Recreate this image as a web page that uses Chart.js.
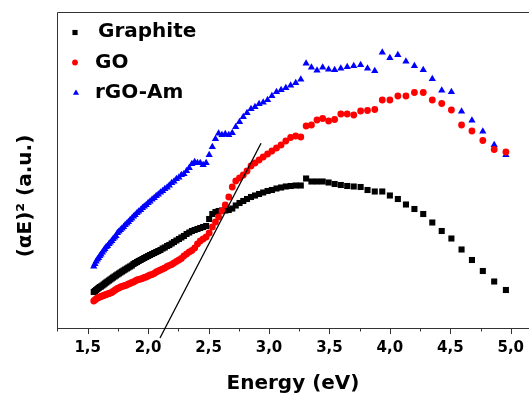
<!DOCTYPE html>
<html>
<head>
<meta charset="utf-8">
<script src="https://cdn.jsdelivr.net/npm/chart.js@4.4.1/dist/chart.umd.min.js"></script>
<style>
  body { margin: 0; background: #fff; }
  #chart { display: block; }
</style>
</head>
<body>
<canvas id="chart" width="529" height="394"></canvas>
<script>
// Photon energy (eV) of every measured point, shared by all three samples
const energy = [
    1.550, 1.560, 1.570, 1.580, 1.590, 1.600, 1.610, 1.621, 1.632, 1.642,
    1.653, 1.664, 1.676, 1.687, 1.699, 1.710, 1.722, 1.734, 1.746, 1.759,
    1.771, 1.784, 1.797, 1.810, 1.824, 1.837, 1.851, 1.865, 1.879, 1.893,
    1.908, 1.922, 1.938, 1.953, 1.968, 1.984, 2.000, 2.016, 2.033, 2.050,
    2.067, 2.084, 2.102, 2.120, 2.138, 2.157, 2.175, 2.195, 2.214, 2.234,
    2.255, 2.275, 2.296, 2.318, 2.340, 2.362, 2.385, 2.408, 2.431, 2.455,
    2.480, 2.505, 2.531, 2.557, 2.583, 2.611, 2.638, 2.667, 2.696, 2.725,
    2.756, 2.787, 2.818, 2.851, 2.884, 2.918, 2.952, 2.988, 3.024, 3.062,
    3.100, 3.139, 3.179, 3.221, 3.263, 3.307, 3.351, 3.397, 3.444, 3.493,
    3.543, 3.594, 3.647, 3.701, 3.758, 3.815, 3.875, 3.937, 4.000, 4.066,
    4.133, 4.203, 4.276, 4.351, 4.429, 4.509, 4.593, 4.679, 4.769, 4.863,
    4.960
];

// (alpha E)^2 in arbitrary units
const graphite = [
    36, 37, 38, 39, 40, 41, 41.5, 42.5, 43.5, 44.5,
    45.5, 46.5, 47.5, 48.5, 49.5, 50.5, 51.5, 52.5, 53.5, 54.5,
    55.5, 56.5, 57.5, 58.5, 59.5, 60.5, 61.5, 62.5, 64, 65,
    66, 67, 68, 69, 70, 71, 72, 73, 74, 75,
    76, 77, 78, 79.5, 80.5, 82, 83, 84.5, 86, 87.5,
    89, 90.5, 92, 94, 95.5, 97, 98, 99, 100, 101,
    102, 109, 114, 116, 117, 117.5, 117.5, 118, 119.5, 122.5,
    125, 127, 129, 131, 132.5, 134, 135.5, 137, 138, 139.5,
    140.5, 141.5, 142, 142.5, 142.5, 149.5, 146.5, 146.5, 146.5, 145.5,
    144, 143, 142, 141.5, 141, 138, 136.5, 136.5, 132.5, 129,
    123.5, 119, 114, 105.5, 97, 89.5, 78.5, 68, 57, 46.5,
    38
];

const go = [
    27, 28, 29, 30, 30.5, 31, 31.5, 32, 32.5, 33,
    33.5, 34, 34.5, 35, 35.5, 36.5, 37.5, 38.5, 39.5, 40,
    41, 41.5, 42, 42.5, 43, 44, 44.5, 45.5, 46, 47,
    48, 48.5, 49, 49.5, 50.5, 51, 52, 53, 53.5, 54.5,
    56, 57, 58, 59, 60, 61.5, 62.5, 63.5, 65, 66.5,
    68, 69.5, 72, 74, 76, 77.5, 80, 84, 87, 89,
    91, 95, 101, 106, 111, 117, 123, 131, 141, 147,
    150, 153, 157, 162, 165, 168, 171, 174, 177, 180,
    183, 187, 190.5, 192, 191, 202, 203, 208, 209.5, 207,
    208.5, 214, 214, 213, 217, 217.5, 218.5, 228, 228, 232,
    232, 235.5, 235.5, 228, 224.5, 218, 203, 197, 187.5, 178.5,
    176
];

const rgoAm = [
    61.5, 64, 66.5, 68.5, 70, 72, 73.5, 75.5, 77.5, 79,
    81, 82, 84, 85.5, 87, 89, 90.5, 92, 95, 96.5,
    98, 99.5, 101, 103, 104.5, 106, 108, 109.5, 111.5, 113,
    115, 116.5, 118, 120, 121.5, 123, 125, 126.5, 128.5, 130,
    132, 133.5, 135.5, 137, 139, 140.5, 142.5, 145, 146.5, 149,
    150.5, 153, 154, 157, 160, 164, 166, 165, 165, 163,
    165, 173, 181, 189, 194.5, 193, 194, 193, 195, 201,
    206, 211, 215, 219, 221, 224, 225.5, 228, 232, 236,
    238, 240, 242.5, 245, 248.5, 264.5, 260.5, 257.5, 260.5, 258.5,
    258, 259.5, 261, 262, 263, 259.5, 257, 275.5, 270, 273,
    266.5, 262, 258, 249, 237.5, 236, 216.5, 207.5, 196.5, 183,
    173
];

// band-gap tangent drawn on the GO curve
const tangentX = [2.098, 2.934];
const tangentY = [-10, 184.7];

const xMajorTicks = [1.5, 2.0, 2.5, 3.0, 3.5, 4.0, 4.5, 5.0];
const xMinorTicks = [1.25, 1.75, 2.25, 2.75, 3.25, 3.75, 4.25, 4.75];
const seriesNames = ['Graphite', 'GO', 'rGO-Am'];

const FONT = 'DejaVu Sans';
Chart.defaults.font.family = FONT;
Chart.defaults.color = '#000';

function toPoints(xs, ys) {
    return xs.map((x, i) => ({ x: x, y: ys[i] }));
}

// axis frame and tick marks (major long, minor short)
const framePlugin = {
    id: 'frame',
    beforeDatasetsDraw(chart) {
        const { ctx, chartArea: a, scales: { x } } = chart;
        ctx.save();
        ctx.strokeStyle = '#333';
        ctx.lineWidth = 1;
        ctx.beginPath();
        ctx.moveTo(a.left + 0.5, a.bottom + 0.5);
        ctx.lineTo(a.left + 0.5, a.top + 0.5);
        ctx.lineTo(a.right, a.top + 0.5);
        ctx.moveTo(a.left, a.bottom + 0.5);
        ctx.lineTo(a.right, a.bottom + 0.5);
        xMajorTicks.forEach(v => {
            const px = Math.round(x.getPixelForValue(v)) + 0.5;
            ctx.moveTo(px, a.bottom);
            ctx.lineTo(px, a.bottom + 6);
        });
        xMinorTicks.forEach(v => {
            const px = Math.round(x.getPixelForValue(v)) + 0.5;
            ctx.moveTo(px, a.bottom);
            ctx.lineTo(px, a.bottom + 3.5);
        });
        ctx.stroke();
        ctx.restore();
    }
};

// y title and the in-plot legend
const labelPlugin = {
    id: 'labels',
    afterDraw(chart) {
        const { ctx } = chart;
        ctx.save();
        ctx.fillStyle = '#000';
        ctx.font = 'bold 20px "' + FONT + '"';
        ctx.translate(31, 196);
        ctx.rotate(-Math.PI / 2);
        ctx.textAlign = 'center';
        ctx.textBaseline = 'alphabetic';
        ctx.fillText('(\u03B1E)\u00B2 (a.u.)', 0, 0);
        ctx.restore();

        const items = [
            { ds: 0, mx: 75, my: 32.5, tx: 98, ty: 37 },
            { ds: 1, mx: 75, my: 62.5, tx: 95, ty: 67.5 },
            { ds: 2, mx: 76, my: 93, tx: 95, ty: 97.5 }
        ];
        ctx.save();
        ctx.font = 'bold 20px "' + FONT + '"';
        ctx.textBaseline = 'alphabetic';
        ctx.textAlign = 'left';
        items.forEach(it => {
            const d = chart.data.datasets[it.ds];
            ctx.fillStyle = d.backgroundColor;
            Chart.helpers.drawPoint(ctx, {
                pointStyle: d.pointStyle,
                radius: d.pointRadius * 0.85,
                rotation: 0,
                borderWidth: 0
            }, it.mx, it.my);
            ctx.fillStyle = '#000';
            ctx.fillText(seriesNames[it.ds], it.tx, it.ty);
        });
        ctx.restore();
    }
};

const ctx = document.getElementById('chart').getContext('2d');
new Chart(ctx, {
    type: 'scatter',
    data: {
        datasets: [
            {
                label: seriesNames[0],
                data: toPoints(energy, graphite),
                pointStyle: 'rect',
                pointRadius: 4.3,
                backgroundColor: '#000000',
                borderWidth: 0,
                order: 2
            },
            {
                label: seriesNames[1],
                data: toPoints(energy, go),
                pointStyle: 'circle',
                pointRadius: 3.4,
                backgroundColor: '#ff0000',
                borderWidth: 0,
                order: 1
            },
            {
                label: seriesNames[2],
                data: toPoints(energy, rgoAm),
                pointStyle: 'triangle',
                pointRadius: 4.2,
                backgroundColor: '#0000ff',
                borderWidth: 0,
                order: 3
            },
            {
                label: 'tangent',
                type: 'line',
                data: toPoints(tangentX, tangentY),
                borderColor: '#000',
                borderWidth: 1.3,
                pointRadius: 0,
                showLine: true,
                clip: false,
                order: 0
            }
        ]
    },
    options: {
        responsive: false,
        animation: false,
        layout: {
            autoPadding: false,
            padding: { top: 12, left: 57, right: 0, bottom: 0 }
        },
        plugins: {
            legend: { display: false },
            tooltip: { enabled: false }
        },
        scales: {
            x: {
                type: 'linear',
                min: 1.246,
                max: 5.151,
                afterBuildTicks: (scale) => {
                    scale.ticks = xMajorTicks.map(v => ({ value: v }));
                },
                afterFit: (scale) => {
                    scale.height = 66;
                    scale.paddingLeft = 0;
                    scale.paddingRight = 0;
                },
                grid: { display: false, drawTicks: false },
                border: { display: false },
                ticks: {
                    autoSkip: false,
                    maxRotation: 0,
                    padding: 11,
                    color: '#000',
                    font: { size: 15, weight: 'bold' },
                    callback: (v) => Number(v).toFixed(1).replace('.', ',')
                },
                title: {
                    display: true,
                    text: 'Energy (eV)',
                    color: '#000',
                    font: { size: 20, weight: 'bold', lineHeight: 1 },
                    padding: { top: 0, bottom: 0 }
                }
            },
            y: {
                type: 'linear',
                display: false,
                min: 0,
                max: 316
            }
        }
    },
    plugins: [framePlugin, labelPlugin]
});
</script>
</body>
</html>
